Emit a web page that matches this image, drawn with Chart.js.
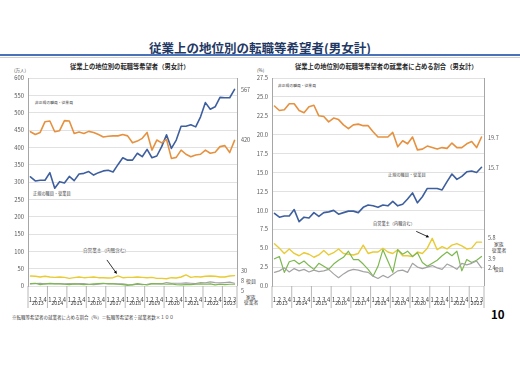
<!DOCTYPE html>
<html lang="ja">
<head>
<meta charset="utf-8">
<script src="https://cdn.jsdelivr.net/npm/chart.js@4.4.1/dist/chart.umd.min.js"></script>
<style>
  body { margin: 0; width: 520px; height: 367px; background: #fff; position: relative; overflow: hidden;
         font-family: 'Noto Sans CJK JP', sans-serif; }
  canvas { position: absolute; left: 0; top: 0; }
  .t { position: absolute; white-space: nowrap; color: #404040; line-height: 1; }
</style>
</head>
<body>

<div class="t" style="left:0;width:520px;text-align:center;top:42px;font-size:12.5px;font-weight:bold;color:#1f3864;">従業上の地位別の転職等希望者(男女計)</div>
<div style="position:absolute;left:0;top:54px;width:520px;height:2px;background:#4a72b8;"></div>
<div style="position:absolute;left:0;top:57px;width:520px;height:1px;background:#cfcfcf;"></div>

<!-- left chart texts -->
<div class="t" style="left:70px;top:63.5px;font-size:6.3px;font-weight:bold;color:#262626;">従業上の地位別の転職等希望者（男女計）</div>
<div class="t" style="left:14px;top:68px;font-size:4.5px;">(万人)</div>
<div class="t" style="left:35px;top:101px;font-size:3.8px;">非正規の職員・従業員</div>
<div class="t" style="left:33px;top:191px;font-size:4.2px;">正規の職員・従業員</div>
<div class="t" style="left:83px;top:248px;font-size:4.6px;">自営業主（内職含む）</div>
<div class="t" style="left:246px;top:278px;font-size:5px;">役員</div>
<div class="t" style="left:246px;top:294.5px;font-size:4.8px;">家族</div>
<div class="t" style="left:244px;top:299.5px;font-size:4.8px;">従業者</div>

<!-- right chart texts -->
<div class="t" style="left:295px;top:63.5px;font-size:6.3px;font-weight:bold;color:#262626;">従業上の地位別の転職等希望者の就業者に占める割合（男女計）</div>
<div class="t" style="left:257px;top:68px;font-size:4.5px;">(%)</div>
<div class="t" style="left:278px;top:84px;font-size:3.8px;">非正規の職員・従業員</div>
<div class="t" style="left:388px;top:172px;font-size:4.2px;">正規の職員・従業員</div>
<div class="t" style="left:373px;top:221px;font-size:4.2px;">自営業主（内職含む）</div>
<div class="t" style="left:494px;top:242px;font-size:4.8px;">家族</div>
<div class="t" style="left:492px;top:247.5px;font-size:4.8px;">従業者</div>
<div class="t" style="left:494px;top:266.5px;font-size:4.8px;">役員</div>

<div class="t" style="left:12px;top:315px;font-size:4.5px;">※転職等希望者の就業者に占める割合（%）＝転職等希望者÷就業者数×１００</div>
<div class="t" style="left:491px;top:309px;font-size:11.5px;font-weight:bold;color:#000;">10</div>

<canvas id="left" width="520" height="367"></canvas>
<canvas id="right" width="520" height="367"></canvas>

<script>
// CATEGORIES (2013 Q1 - 2023 Q3)
const years = ['2013', '2014', '2015', '2016', '2017', '2018', '2019', '2020', '2021', '2022', '2023'];
const quartersPerYear = [4, 4, 4, 4, 4, 4, 4, 4, 4, 4, 3];
const quarterLabels = [
    '1','2','3','4', '1','2','3','4', '1','2','3','4', '1','2','3','4', '1','2','3','4',
    '1','2','3','4', '1','2','3','4', '1','2','3','4', '1','2','3','4', '1','2','3','4',
    '1','2','3'
];

// LEFT: number of people (万人)
const leftRegular = [315, 303, 305, 305, 327, 282, 301, 297, 316, 304, 323, 325, 330, 320, 327, 332, 334, 329, 350, 370, 363, 363, 383, 373, 394, 370, 375, 402, 436, 397, 421, 461, 461, 465, 459, 488, 529, 510, 517, 544, 543, 543, 567];
const leftNonRegular = [445, 437, 443, 474, 476, 445, 448, 477, 476, 440, 444, 440, 446, 443, 437, 430, 432, 433, 433, 437, 433, 413, 418, 426, 443, 392, 421, 413, 423, 368, 371, 392, 380, 373, 378, 380, 392, 383, 386, 402, 405, 385, 420];
const leftSelf = [29, 28, 26, 28, 26, 25, 26, 25, 22, 24, 26, 24, 25, 26, 24, 24, 23, 24, 29, 24, 25, 25, 26, 25, 24, 25, 22, 22, 21, 24, 23, 26, 32, 25, 27, 26, 28, 29, 28, 26, 26, 29, 30];
const leftExec = [6, 7, 8, 6, 8, 7, 7, 6, 7, 6, 7, 7, 5, 4, 5, 7, 7, 7, 6, 6, 4, 3, 5, 4, 5, 7, 7, 6, 10, 8, 8, 8, 9, 8, 7, 10, 9, 12, 10, 9, 10, 11, 8];
const leftFamily = [7, 8, 4, 6, 7, 6, 6, 5, 4, 6, 5, 4, 5, 6, 7, 8, 6, 6, 5, 4, 2, 4, 7, 5, 3, 7, 6, 6, 5, 6, 4, 3, 4, 4, 5, 6, 5, 6, 3, 5, 4, 5, 5];

// RIGHT: share of employed (%)
const rightRegular = [9.6, 9.1, 9.25, 9.25, 10.1, 8.5, 9.1, 9.0, 9.7, 9.2, 9.7, 9.8, 10.0, 9.5, 9.7, 9.9, 9.9, 9.7, 10.4, 10.7, 10.6, 10.4, 10.7, 10.6, 11.2, 10.6, 10.8, 11.5, 12.3, 11.0, 11.8, 12.9, 12.9, 12.9, 12.7, 13.8, 14.8, 14.1, 14.5, 15.1, 15.2, 15.0, 15.7];
const rightNonRegular = [23.8, 23.2, 23.3, 24.1, 24.1, 23.2, 22.9, 23.7, 23.9, 22.5, 22.4, 21.7, 22.2, 22.0, 21.3, 20.8, 21.3, 21.4, 21.2, 21.2, 20.4, 19.7, 19.7, 19.7, 20.3, 18.4, 19.2, 18.8, 19.7, 18.0, 18.1, 18.5, 18.3, 18.1, 18.3, 18.2, 18.9, 18.3, 18.3, 18.8, 19.1, 18.3, 19.7];
const rightSelf = [5.6, 5.0, 4.3, 4.9, 4.3, 4.0, 4.4, 4.2, 3.8, 4.1, 4.7, 4.1, 4.4, 4.9, 4.3, 4.2, 4.1, 4.3, 5.4, 4.3, 4.5, 4.5, 5.0, 4.5, 4.3, 4.8, 4.0, 4.0, 3.9, 4.5, 4.3, 5.0, 6.3, 4.8, 5.2, 4.9, 5.4, 5.6, 5.3, 4.9, 5.0, 5.8, 5.8];
const rightFamily = [3.6, 3.9, 1.8, 3.2, 3.4, 2.9, 3.3, 2.7, 2.2, 3.0, 2.6, 2.2, 2.9, 3.4, 3.8, 4.6, 3.5, 3.5, 2.9, 2.2, 1.3, 2.6, 4.8, 3.3, 1.8, 4.8, 4.2, 4.6, 3.9, 4.4, 3.1, 2.6, 3.0, 3.4, 4.0, 4.5, 4.0, 4.6, 2.0, 3.5, 3.1, 3.4, 3.9];
const rightExec = [1.8, 2.0, 2.4, 1.85, 2.3, 2.0, 2.2, 1.85, 2.1, 1.9, 2.0, 2.2, 1.6, 1.1, 1.6, 2.0, 2.2, 2.1, 1.9, 1.8, 1.3, 1.0, 1.4, 1.1, 1.55, 2.0, 2.1, 1.8, 3.0, 2.5, 2.3, 2.5, 2.7, 2.4, 2.2, 2.9, 2.6, 2.2, 3.0, 2.8, 3.0, 3.3, 2.4];

const BLUE = '#3e5f9e';
const ORANGE = '#e6913f';
const YELLOW = '#e8cb35';
const GREEN = '#7cb84f';
const GRAY = '#a3a3a3';
const FONT = "'Noto Sans CJK JP', sans-serif";

Chart.defaults.font.family = FONT;
Chart.defaults.color = '#404040';

// year rows, right border, end labels and arrow
const decor = {
    id: 'decor',
    afterDraw(chart, args, opts) {
        const { ctx, chartArea: a, scales } = chart;
        const x = scales.x, y = scales.y;
        const step = x.getPixelForValue(1) - x.getPixelForValue(0);
        ctx.save();

        ctx.strokeStyle = '#a6a6a6';
        ctx.lineWidth = 1;
        ctx.beginPath();
        ctx.moveTo(Math.round(a.right) + 0.5, a.top);
        ctx.lineTo(Math.round(a.right) + 0.5, a.bottom);
        ctx.stroke();

        ctx.font = '5.4px ' + FONT;
        ctx.fillStyle = '#404040';
        ctx.textAlign = 'center';
        ctx.textBaseline = 'middle';
        ctx.lineWidth = 0.8;
        let start = 0;
        years.forEach((yr, k) => {
            const n = quartersPerYear[k];
            const l = x.getPixelForValue(start) - step / 2;
            const r = x.getPixelForValue(start + n - 1) + step / 2;
            ctx.beginPath();
            ctx.moveTo(l, a.bottom);
            ctx.lineTo(l, a.bottom + 22);
            if (k === years.length - 1) {
                ctx.moveTo(r, a.bottom);
                ctx.lineTo(r, a.bottom + 22);
            }
            ctx.stroke();
            ctx.fillText(yr, (l + r) / 2, a.bottom + 17);
            start += n;
        });

        ctx.textAlign = 'left';
        ctx.font = '5.5px ' + FONT;
        ctx.fillStyle = '#595959';
        opts.ends.forEach(e => {
            const d = chart.data.datasets[e.ds].data;
            const v = d[d.length - 1];
            ctx.fillText(opts.fmt(v), a.right + 4, y.getPixelForValue(v) + e.dy);
        });

        // arrow to the self-employed peak
        const ar = opts.arrow;
        const d = chart.data.datasets[ar.ds].data;
        const tx = x.getPixelForValue(ar.i) + ar.ox;
        const ty = y.getPixelForValue(d[ar.i]) + ar.oy;
        const fx = tx + ar.dx, fy = ty + ar.dy;
        const ang = Math.atan2(ty - fy, tx - fx);
        ctx.strokeStyle = '#000';
        ctx.fillStyle = '#000';
        ctx.lineWidth = 0.8;
        ctx.beginPath();
        ctx.moveTo(fx, fy);
        ctx.lineTo(tx - 2 * Math.cos(ang), ty - 2 * Math.sin(ang));
        ctx.stroke();
        ctx.beginPath();
        ctx.moveTo(tx, ty);
        ctx.lineTo(tx - 3.5 * Math.cos(ang - 0.45), ty - 3.5 * Math.sin(ang - 0.45));
        ctx.lineTo(tx - 3.5 * Math.cos(ang + 0.45), ty - 3.5 * Math.sin(ang + 0.45));
        ctx.closePath();
        ctx.fill();

        ctx.restore();
    }
};

function series(data, color, width) {
    return {
        data: data,
        borderColor: color,
        borderWidth: width,
        pointRadius: 0,
        tension: 0,
        borderJoinStyle: 'round',
        borderCapStyle: 'round'
    };
}

function drawChart(id, datasets, yMax, yStep, yWidth, padding, tickFmt, decorOpts) {
    const ctx = document.getElementById(id).getContext('2d');
    return new Chart(ctx, {
        type: 'line',
        data: { labels: quarterLabels, datasets: datasets },
        options: {
            responsive: false,
            animation: false,
            devicePixelRatio: 1,
            layout: { padding: padding },
            plugins: {
                legend: { display: false },
                tooltip: { enabled: false },
                decor: decorOpts
            },
            scales: {
                x: {
                    type: 'category',
                    offset: true,
                    grid: { display: false },
                    border: { display: false },
                    ticks: { autoSkip: false, maxRotation: 0, padding: 2, font: { size: 5.8 }, color: '#404040' },
                    afterFit(scale) { scale.height = 24; }
                },
                y: {
                    min: 0,
                    max: yMax,
                    grid: { color: '#d9d9d9', lineWidth: 0.8, drawTicks: false },
                    border: { display: true, color: '#a6a6a6', width: 1 },
                    ticks: { stepSize: yStep, padding: 4, font: { size: 5.8 }, color: '#595959', callback: tickFmt },
                    afterFit(scale) { scale.width = yWidth; }
                }
            }
        },
        plugins: [decor]
    });
}

// LEFT CHART
drawChart('left', [
    series(leftFamily, GREEN, 1.2),
    series(leftExec, GRAY, 1.2),
    series(leftSelf, YELLOW, 1.4),
    series(leftNonRegular, ORANGE, 1.6),
    series(leftRegular, BLUE, 1.6)
], 600, 50, 28, { top: 78, left: 0, right: 283, bottom: 57 }, v => v, {
    fmt: v => String(v),
    ends: [{ ds: 4, dy: 0 }, { ds: 3, dy: 0 }, { ds: 2, dy: -5 }, { ds: 1, dy: -2 }, { ds: 0, dy: 7 }],
    arrow: { ds: 2, i: 18, ox: -1, oy: -2, dx: -10, dy: -14 }
});

// RIGHT CHART
drawChart('right', [
    series(rightExec, GRAY, 1.2),
    series(rightFamily, GREEN, 1.2),
    series(rightSelf, YELLOW, 1.4),
    series(rightNonRegular, ORANGE, 1.6),
    series(rightRegular, BLUE, 1.6)
], 27.5, 2.5, 27, { top: 78, left: 245, right: 36, bottom: 57 }, v => v.toFixed(1), {
    fmt: v => v.toFixed(1),
    ends: [{ ds: 3, dy: 1 }, { ds: 4, dy: 1 }, { ds: 2, dy: -4 }, { ds: 1, dy: 2.5 }, { ds: 0, dy: 0 }],
    arrow: { ds: 2, i: 32, ox: -3, oy: -1, dx: -13, dy: -6 }
});
</script>
</body>
</html>
